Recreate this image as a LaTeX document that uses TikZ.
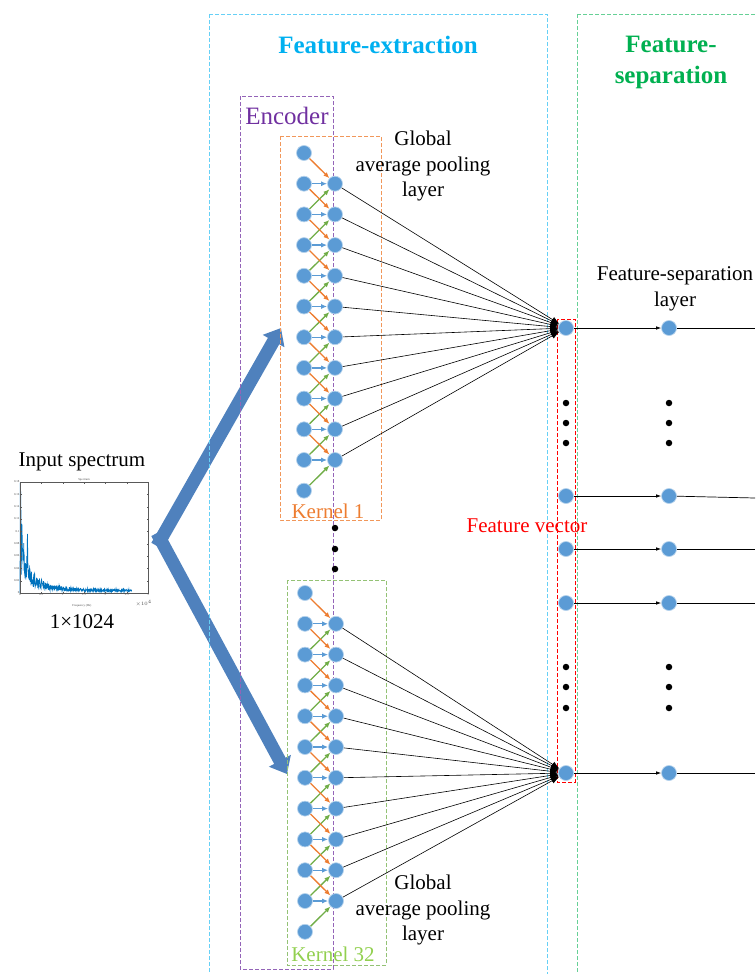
\documentclass[tikz,border=0pt]{standalone}
\usepackage{fontspec}
\setmainfont{Liberation Serif}
\usetikzlibrary{arrows.meta, positioning}
\definecolor{nodeblue}{RGB}{91,155,213}
\definecolor{korange}{RGB}{237,125,49}
\definecolor{kgreen}{RGB}{112,173,71}
\definecolor{klime}{RGB}{146,208,80}
\definecolor{encpurple}{RGB}{112,48,160}
\definecolor{extcyan}{RGB}{0,176,240}
\definecolor{sepgreen}{RGB}{0,176,80}
\definecolor{arrowblue}{RGB}{79,129,189}
\definecolor{specblue}{RGB}{0,114,189}

\begin{document}
\begin{tikzpicture}[x=1pt, y=-1pt,
    neuron/.style={circle, fill=nodeblue, draw=nodeblue!45!white, line width=0.7pt,
                   inner sep=0pt, minimum size=15pt},
    dotnode/.style={circle, fill=black, inner sep=0pt, minimum size=6.5pt},
    conv/.style={-{Latex[length=6pt,width=5pt]}, line width=1.3pt},
    pool/.style={-{Latex[length=8pt,width=6pt]}, line width=0.6pt},
    sepline/.style={-{Latex[length=5pt,width=3.5pt]}, line width=0.7pt},
    region/.style={dash pattern=on 4pt off 2pt, line width=0.8pt},
    txt/.style={font=\fontsize{21}{25.5}\selectfont, align=center, inner sep=0pt},
    title/.style={font=\fontsize{25}{31}\selectfont\bfseries, align=center, inner sep=0pt},
    feedarrow/.style={line width=13pt, arrowblue, -{Triangle[length=15pt,width=24pt]}},
    tick/.style={font=\fontsize{3}{3}\selectfont, inner sep=0.5pt, text=black!70}
  ]
    \useasboundingbox (0,0) rectangle (755,974);

    % input spectrum
    \node[txt] (intitle) at (82,462) {Input spectrum};
    \node[txt] (insize)  at (82,622) {1×1024};
    \begin{scope}[shift={(20,593)}, x=42.667pt, y=616.67pt]
      \pgfmathsetseed{11}
      \draw[specblue, line width=0.6pt] (0,0) -- (0.004,0.179) -- (0.01,0.02) -- (0.02,0.165)
        -- (0.03,0.03) -- (0.045,0.112) -- plot[samples=560, domain=0.05:2.62]
        (\x, {0.001 + (0.25+0.75*rnd)*(0.09*exp(-min(\x/0.12,9))
               + 0.07*exp(-min((\x-0.17)*(\x-0.17),0.0027)/0.0003)
               + 0.045*exp(-min(\x/0.45,9)) + 0.005)});
      \draw[black!65, line width=0.5pt] (0,0) rectangle (3,0.18);
      \foreach \t in {0,0.5,1,1.5,2,2.5,3} {
        \draw[black!65, line width=0.3pt] (\t,0) -- ++(0pt,1.5pt) (\t,0.18) -- ++(0pt,-1.5pt);
        \node[tick, below] at (\t,0) {\t};
      }
      \foreach \t in {0,0.02,0.04,0.06,0.08,0.1,0.12,0.14,0.16,0.18} {
        \draw[black!65, line width=0.3pt] (0,\t) -- ++(1.5pt,0pt) (3,\t) -- ++(-1.5pt,0pt);
        \node[tick, left] at (0,\t) {\t};
      }
      \node[tick, above] (spectitle) at (1.5,0.18) {Spectrum};
      \node[tick] (specxlabel) at (1.45,-0.021) {Frequency (Hz)};
      \node[tick] (specexp) at (2.9,-0.016) {$\times10^4$};
    \end{scope}

    % feed arrows into the kernels
    \coordinate (forkup)   at (157,546);
    \coordinate (forkdown) at (157,533);
    \coordinate (tipone)   at (281,328);
    \coordinate (tiptwo)   at (287,774);
    \draw[feedarrow] (forkup) -- (tipone);
    \draw[feedarrow] (forkdown) -- (tiptwo);

    % regions
    \draw[region, extcyan!60!white] (209,14) rectangle (547,980);
    \draw[region, sepgreen!60!white] (577,14) rectangle (765,980);
    \draw[region, encpurple!75!white] (240,96) rectangle (333,969);
    \draw[region, korange!80!white] (280,136) rectangle (381,520);
    \draw[region, kgreen!75!white] (287,580) rectangle (386,965);
    \draw[region, red] (557,319) rectangle (575,782);

    \node[title, text=extcyan] (fetitle) at (378,45) {Feature-extraction};
    \node[title, text=sepgreen] (fstitle) at (671,62) {Feature-\\separation};
    \node[txt, font=\fontsize{25}{30}\selectfont, text=encpurple] (enclabel) at (287,116) {Encoder};
    \node[txt, text=korange] (kernone) at (328,511) {Kernel 1};
    \node[txt, text=klime] (kerntwo) at (333,954) {Kernel 32};
    \node[txt] (gapone) at (423,166) {Global\\average pooling\\layer};
    \node[txt] (gaptwo) at (423,910) {Global\\average pooling\\layer};
    \node[txt] (fslabel) at (675,289) {Feature-separation\\layer};

    % kernel 1
    \foreach \i in {0,...,11}
      \node[neuron] (ka\i) at (304,{153+30.7*\i}) {};
    \foreach \i in {1,...,10}
      \node[neuron] (kb\i) at (335,{153+30.7*\i}) {};
    % kernel 32
    \foreach \i in {0,...,11}
      \node[neuron] (la\i) at (305,{593+30.8*\i}) {};
    \foreach \i in {1,...,10}
      \node[neuron] (lb\i) at (336,{593+30.8*\i}) {};

    \foreach \i [evaluate=\i as \j using int(\i+1)] in {1,...,10} {
      \draw[conv, kgreen] (ka\j) -- (kb\i);
      \draw[conv, kgreen] (la\j) -- (lb\i);
      \draw[conv, nodeblue] (ka\i) -- (kb\i);
      \draw[conv, nodeblue] (la\i) -- (lb\i);
    }
    \foreach \i [evaluate=\i as \j using int(\i+1)] in {0,...,9} {
      \draw[conv, korange] (ka\i) -- (kb\j);
      \draw[conv, korange] (la\i) -- (lb\j);
    }

    \node[dotnode] (kdot1) at (335,528) {};
    \node[dotnode] (kdot2) at (335,549) {};
    \node[dotnode] (kdot3) at (335,569) {};

    % feature vector and feature-separation layer
    \node[txt, text=red] (fvlabel) at (527,526) {Feature vector};
    \node[neuron] (fv1) at (566,328) {};
    \node[neuron] (fv2) at (566,496) {};
    \node[neuron] (fv3) at (566,549) {};
    \node[neuron] (fv4) at (566,603) {};
    \node[neuron] (fv5) at (566,773) {};
    \node[neuron] (fs1) at (669,328) {};
    \node[neuron] (fs2) at (669,496) {};
    \node[neuron] (fs3) at (669,549) {};
    \node[neuron] (fs4) at (669,603) {};
    \node[neuron] (fs5) at (669,773) {};
    \coordinate (out1) at (755,328);
    \coordinate (out2) at (755,498);
    \coordinate (out3) at (755,549);
    \coordinate (out4) at (755,603);
    \coordinate (out5) at (755,773);

    \foreach \y [count=\n] in {403,423,443,667,687,708} {
      \node[dotnode] (vdot\n) at (566,\y) {};
      \node[dotnode] (sdot\n) at (669,\y) {};
    }

    \foreach \i in {1,...,10} {
      \draw[pool] (kb\i) -- (fv1);
      \draw[pool] (lb\i) -- (fv5);
    }
    \foreach \i in {1,...,5} {
      \draw[sepline] (fv\i) -- (fs\i);
      \draw[line width=0.7pt] (fs\i) -- (out\i);
    }
  \end{tikzpicture}
\end{document}
